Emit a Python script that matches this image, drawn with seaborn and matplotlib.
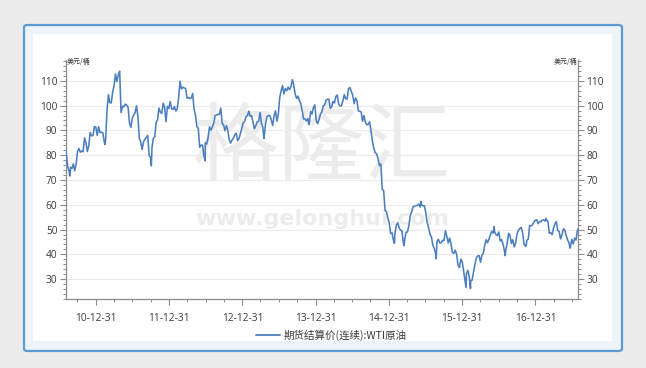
import matplotlib
matplotlib.use("Agg")
import numpy as np
import pandas as pd
import matplotlib.pyplot as plt
import matplotlib.dates as mdates
from matplotlib.ticker import MultipleLocator, FixedLocator
from matplotlib.patches import FancyBboxPatch, Rectangle
from matplotlib.lines import Line2D
import seaborn as sns

# ---------------- data ----------------
series_name = "期货结算价(连续):WTI原油"
unit_label = "美元/桶"
first_friday = "2010-08-06"

w2010 = [80.7, 75.4, 73.5, 75.2, 74.6, 76.5, 73.7, 76.5, 81.6, 82.7, 81.2, 81.7, 81.4,
         87.0, 84.9, 81.5, 83.8, 89.2, 87.8, 88.0, 91.5, 91.4]
w2011 = [88.0, 91.5, 89.1, 89.3,
         89.0, 85.6, 86.2, 98.0,
         104.4, 101.2, 101.1, 105.4,
         107.9, 112.8, 109.7, 112.3, 113.9,
         97.2, 99.7, 99.5, 100.6,
         100.2, 99.3, 93.0, 91.2,
         94.9, 96.2, 97.2, 99.9, 95.7,
         86.9, 85.4, 82.3, 85.4,
         86.5, 87.2, 88.0, 79.9, 79.2,
         83.0, 86.8, 87.4, 93.3,
         94.3, 99.0, 97.4, 96.8,
         101.0, 99.4, 93.5, 99.7, 98.8]
w2012 = [101.6, 98.7, 98.5, 99.6,
         97.8, 98.7, 103.2, 109.8,
         106.7, 107.4, 107.1, 106.9, 103.0,
         103.3, 102.8, 103.1, 104.9,
         98.5, 96.1, 91.5, 90.9,
         83.2, 84.1, 84.0, 79.8, 85.0,
         84.5, 87.1, 91.4, 90.1,
         91.4, 92.9, 96.0, 96.2, 96.5,
         96.4, 99.0, 92.9, 92.2,
         89.9, 91.9, 90.1, 86.3,
         84.9, 86.1, 86.9, 88.3, 88.9,
         85.9, 86.7, 88.7, 90.8]
w2013 = [93.1, 93.6, 95.6, 95.9,
         97.8, 95.7, 95.9, 93.1,
         90.7, 92.0, 93.5, 93.7, 97.2,
         92.7, 91.3, 88.0, 93.0,
         95.6, 96.0, 96.0, 94.2, 92.0,
         96.0, 97.9, 93.7, 96.6,
         103.2, 106.0, 108.1, 104.7,
         106.9, 106.0, 107.5, 106.4, 107.7,
         110.5, 108.2, 104.7, 102.9,
         103.8, 102.0, 100.8, 97.9,
         94.6, 94.6, 93.8, 94.8, 92.7,
         97.7, 96.6, 99.3, 100.3]
w2014 = [94.0, 92.7, 94.4, 96.6, 97.5,
         99.9, 100.3, 102.2, 102.6,
         102.6, 98.9, 99.5, 101.7,
         101.1, 103.7, 104.3, 100.6,
         99.8, 100.0, 102.0, 104.4, 102.7,
         102.7, 106.9, 107.3, 105.7,
         104.1, 100.8, 103.1, 102.1,
         97.9, 97.7, 97.4, 93.7, 96.0,
         93.3, 92.3, 92.4, 93.5,
         89.7, 85.8, 82.8, 81.0, 80.5,
         78.7, 75.8, 76.5, 66.2,
         65.8, 57.8, 57.1, 54.7]
w2015 = [52.7, 48.4, 48.7, 45.6, 48.2,
         51.7, 52.8, 50.8, 49.8,
         49.6, 44.8, 46.0, 48.9,
         49.1, 51.6, 55.7, 57.2,
         59.2, 59.4, 59.7, 59.7, 60.3,
         59.1, 60.0, 59.6, 59.6,
         56.9, 52.7, 50.9, 48.1, 47.1,
         43.9, 42.5, 40.5, 45.2,
         46.1, 44.6, 44.7, 45.7,
         45.5, 49.6, 47.3, 44.6, 46.6,
         44.3, 40.7, 40.4, 41.7,
         40.0, 35.6, 34.7, 38.1]
w2016 = [37.0, 33.2, 29.4, 32.2, 33.6,
         30.9, 29.4, 29.6, 32.8,
         35.9, 38.5, 39.4, 39.5,
         36.8, 39.7, 40.4, 43.7, 45.9,
         44.7, 46.2, 47.8, 49.3,
         48.6, 49.1, 48.0, 47.6,
         49.0, 45.4, 46.0, 44.2, 41.6,
         41.8, 44.5, 48.5, 47.6,
         44.4, 45.9, 43.0, 44.5, 48.2,
         49.8, 50.4, 50.9, 48.7,
         44.1, 43.4, 45.7, 46.1,
         51.7, 51.5, 51.9, 53.0, 53.7]
w2017 = [54.0, 52.4, 53.2, 53.2,
         53.8, 53.9, 53.4, 54.0,
         53.3, 48.5, 48.8, 48.0, 50.6,
         52.2, 53.2, 49.6, 49.3,
         46.2, 47.8, 50.3, 49.8,
         47.7, 45.8, 44.7, 43.0, 46.0,
         44.2, 46.5, 45.8, 49.7]

# intraweek extremes
extra_dates = ["2010-08-03", "2010-08-24", "2011-02-15", "2011-10-04", "2012-06-28",
               "2013-04-17", "2013-11-27", "2015-01-28", "2015-03-17", "2015-06-10",
               "2015-08-24", "2016-01-20", "2016-02-11", "2016-06-08", "2016-08-02",
               "2016-11-14", "2017-02-22", "2017-06-21", "2017-07-31"]
extra_values = [82.5, 71.6, 84.3, 75.7, 77.7,
                86.7, 92.3, 44.5, 43.5, 61.4,
                38.2, 26.6, 26.2, 51.2, 39.5,
                43.3, 54.5, 42.5, 50.2]

x_tick_dates = ["2010-12-31", "2011-12-31", "2012-12-31", "2013-12-31",
                "2014-12-31", "2015-12-31", "2016-12-31"]
y_ticks = [30, 40, 50, 60, 70, 80, 90, 100, 110]

weekly = w2010 + w2011 + w2012 + w2013 + w2014 + w2015 + w2016 + w2017
wdates = pd.date_range(first_friday, periods=len(weekly), freq="W-FRI")
df = pd.concat([
    pd.DataFrame({"date": wdates, "price": weekly}),
    pd.DataFrame({"date": pd.to_datetime(extra_dates), "price": extra_values}),
]).sort_values("date").reset_index(drop=True)

# ---------------- style ----------------
sns.set_theme(style="white")
plt.rcParams["font.family"] = ["Open Sans", "DejaVu Sans"]
cjk = ["Noto Sans CJK SC", "DejaVu Sans"]
line_color = "#4d7fbf"
txt_color = "#3a3a3a"
spine_color = "#8c8c8c"

W, H = 646, 368
fig = plt.figure(figsize=(W / 100, H / 100), dpi=100)
fig.patch.set_facecolor("#ececec")

# frame
fig.patches.append(FancyBboxPatch((24 / W, 1 - 351 / H), (622 - 24) / W, (351 - 25) / H,
                                  boxstyle="round,pad=0,rounding_size=0.006",
                                  transform=fig.transFigure, facecolor="#eef3f9",
                                  edgecolor="#5b9bd5", linewidth=1.6, zorder=-3))
fig.patches.append(Rectangle((33 / W, 1 - 341 / H), (612 - 33) / W, (341 - 34) / H,
                             transform=fig.transFigure, facecolor="white",
                             edgecolor="none", zorder=-2))

ax = fig.add_axes([65.7 / W, 1 - 299 / H, (578 - 65.7) / W, (299 - 60) / H])
ax.set_zorder(1)
ax.set_facecolor("none")

# watermark
ax.text(0.5, 0.625, "格隆汇", transform=ax.transAxes, ha="center", va="center",
        fontsize=62, color="#ececec", family=cjk, zorder=0)
ax.text(0.5, 0.335, "www.gelonghui.com", transform=ax.transAxes, ha="center", va="center",
        fontsize=16, color="#ececec", fontweight="bold", family=["DejaVu Sans"], zorder=0)

sns.lineplot(data=df, x="date", y="price", ax=ax, color=line_color, linewidth=1.15,
             legend=False, zorder=3)

ax.set_xlim(pd.Timestamp("2010-08-03"), pd.Timestamp("2017-07-31"))
ax.set_ylim(22.0, 118.4)
ax.set_xlabel("")
ax.set_ylabel("")

ax.yaxis.set_major_locator(FixedLocator(y_ticks))
ax.yaxis.set_minor_locator(MultipleLocator(2))
major_x = [mdates.date2num(pd.Timestamp(d)) for d in x_tick_dates]
minor_x = [mdates.date2num(d) for d in pd.date_range("2010-09-30", "2017-07-31", freq="QE")]
ax.xaxis.set_major_locator(FixedLocator(major_x))
ax.xaxis.set_minor_locator(FixedLocator(minor_x))
ax.xaxis.set_major_formatter(mdates.DateFormatter("%y-%m-%d"))

ax.grid(axis="y", which="major", color="#ececec", linewidth=0.8, zorder=1)
ax.grid(axis="x", visible=False)

for s in ["left", "right", "bottom"]:
    ax.spines[s].set_visible(True)
    ax.spines[s].set_color(spine_color)
    ax.spines[s].set_linewidth(0.9)
ax.spines["top"].set_visible(False)

ax.tick_params(axis="both", which="major", direction="out", length=4, width=0.8,
               color=spine_color, labelsize=7.3, labelcolor=txt_color, pad=2)
ax.tick_params(axis="both", which="minor", direction="out", length=2.2, width=0.7,
               color=spine_color)
ax.tick_params(axis="y", which="both", left=True, right=True, labelleft=True, labelright=True)
ax.tick_params(axis="x", which="both", bottom=True, top=False)
ax.tick_params(axis="x", which="major", pad=6)

# unit labels
fig.text(66.5 / W, 1 - 62 / H, unit_label, ha="left", va="center", fontsize=5,
         color=txt_color, family=cjk)
fig.text(577 / W, 1 - 62 / H, unit_label, ha="right", va="center", fontsize=5,
         color=txt_color, family=cjk)

# legend
handle = Line2D([0], [0], color=line_color, linewidth=1.3)
fig.legend([handle], [series_name], loc="center", bbox_to_anchor=(331 / W, 1 - 335 / H),
           frameon=False, handlelength=2.3, handletextpad=0.3,
           prop={"family": cjk, "size": 7.6}, labelcolor=txt_color)

fig.savefig("out.png", dpi=100, facecolor=fig.get_facecolor())
